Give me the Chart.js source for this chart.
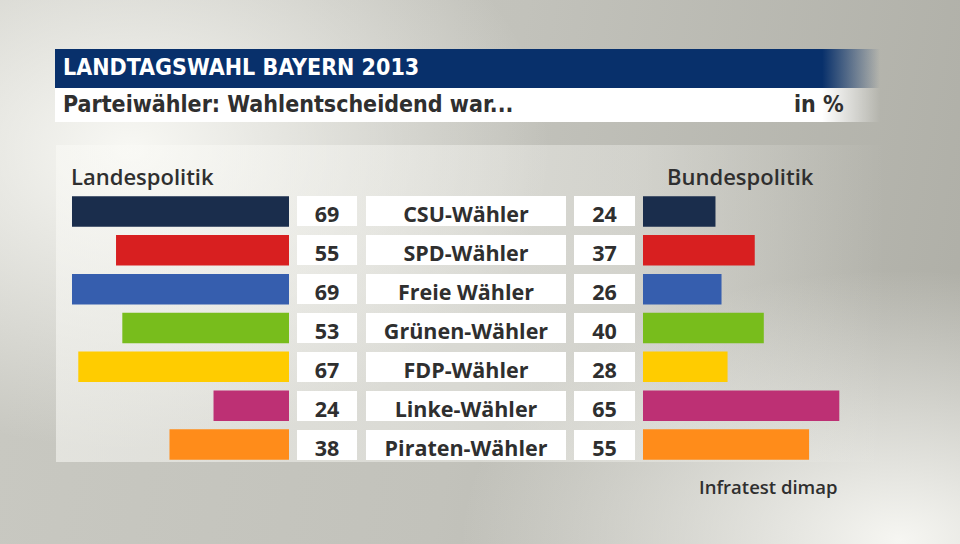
<!DOCTYPE html>
<html lang="de">
<head>
  <meta charset="UTF-8">
  <title>Landtagswahl Bayern 2013</title>
  <script src="https://cdn.jsdelivr.net/npm/chart.js"></script>
  <style>
    body {
      margin: 0;
      width: 960px;
      height: 544px;
      overflow: hidden;
      position: relative;
      font-family: "Open Sans", "Noto Sans", sans-serif;
      color: #2f2f2f;
      background:
        radial-gradient(ellipse 420px 300px at 130px 150px, rgba(248,248,244,1), rgba(248,248,244,0)),
        radial-gradient(ellipse 440px 270px at 900px 540px, rgba(246,246,242,1), rgba(246,246,242,0)),
        linear-gradient(100deg, #c9c9c2 0%, #c2c2bb 50%, #aeaea6 100%);
    }
    #panel {
      position: absolute;
      left: 56px; top: 145px; width: 830px; height: 317px;
      background: linear-gradient(90deg, rgba(250,250,246,0.55) 0%, rgba(250,250,246,0.35) 70%, rgba(250,250,246,0) 100%);
    }
    #titlebar {
      position: absolute;
      left: 55px; top: 49px; width: 825px; height: 39px;
      background: linear-gradient(90deg, #08306b 0%, #08306b 93%, rgba(8,48,107,0) 100%);
    }
    #subbar {
      position: absolute;
      left: 55px; top: 88px; width: 825px; height: 34px;
      background: linear-gradient(90deg, #fff 0%, #fff 93%, rgba(255,255,255,0) 100%);
    }
    .cond {
      font-family: "DejaVu Sans Condensed", "Liberation Sans Narrow", sans-serif;
      font-stretch: condensed;
      font-weight: bold;
      position: absolute;
      white-space: nowrap;
    }
    #title { left: 63px; top: 54px; font-size: 23px; color: #fff; }
    #subtitle { left: 63px; top: 91px; font-size: 23px; color: #2f2f2f; }
    #unit { left: 794px; top: 91px; font-size: 23px; color: #2f2f2f; }
    .head {
      position: absolute;
      font-size: 22px;
      font-weight: 600;
      white-space: nowrap;
    }
    .box {
      position: absolute;
      background: #fff;
      text-align: center;
      font-size: 21.5px;
      font-weight: 700;
      white-space: nowrap;
    }
    canvas { position: absolute; }
  </style>
</head>
<body>
  <div id="panel"></div>
  <div id="titlebar"></div>
  <div id="subbar"></div>
  <div class="cond" id="title">LANDTAGSWAHL BAYERN 2013</div>
  <div class="cond" id="subtitle">Parteiwähler: Wahlentscheidend war...</div>
  <div class="cond" id="unit">in %</div>
  <div class="head" style="left:71px; top:161px;">Landespolitik</div>
  <div class="head" style="left:667px; top:161px;">Bundespolitik</div>
  <div class="head" style="left:699px; top:474px; font-size:18.5px;">Infratest dimap</div>

  <canvas id="leftChart" width="233" height="272" style="left:56px; top:192px;"></canvas>
  <canvas id="rightChart" width="237" height="272" style="left:643px; top:192px;"></canvas>

  <script>
    const parties = ["CSU-Wähler", "SPD-Wähler", "Freie Wähler", "Grünen-Wähler", "FDP-Wähler", "Linke-Wähler", "Piraten-Wähler"];
    const landespolitik = [69, 55, 69, 53, 67, 24, 38];
    const bundespolitik = [24, 37, 26, 40, 28, 65, 55];
    const partyColors = ["#1a2d4c", "#d81f20", "#365eae", "#78bd1c", "#ffcc00", "#bd3074", "#ff8c1a"];

    function makeChart(id, values, max, reverse) {
      return new Chart(document.getElementById(id), {
        type: 'bar',
        data: {
          labels: parties,
          datasets: [{
            data: values,
            backgroundColor: partyColors,
            borderWidth: 0,
            categoryPercentage: 1,
            barPercentage: 0.785
          }]
        },
        options: {
          indexAxis: 'y',
          responsive: false,
          animation: false,
          layout: { padding: 0 },
          plugins: { legend: { display: false }, tooltip: { enabled: false } },
          scales: {
            x: { display: false, min: 0, max: max, reverse: reverse },
            y: { display: false }
          }
        }
      });
    }

    const left = makeChart("leftChart", landespolitik, 233 / 3.145, true);
    const right = makeChart("rightChart", bundespolitik, 237 / 3.02, false);

    // label boxes placed on the chart's own category positions
    const top0 = 192;
    const boxH = 30;
    parties.forEach((p, i) => {
      const cy = top0 + left.scales.y.getPixelForValue(i);
      const cols = [
        { x: 297, w: 60, text: landespolitik[i] },
        { x: 366, w: 200, text: p },
        { x: 574, w: 61, text: bundespolitik[i] }
      ];
      cols.forEach(c => {
        const d = document.createElement("div");
        d.className = "box";
        d.style.left = c.x + "px";
        d.style.top = Math.round(cy - boxH / 2) + "px";
        d.style.width = c.w + "px";
        d.style.height = boxH + "px";
        d.style.lineHeight = (boxH + 5) + "px";
        d.textContent = c.text;
        document.body.appendChild(d);
      });
    });
  </script>
</body>
</html>
